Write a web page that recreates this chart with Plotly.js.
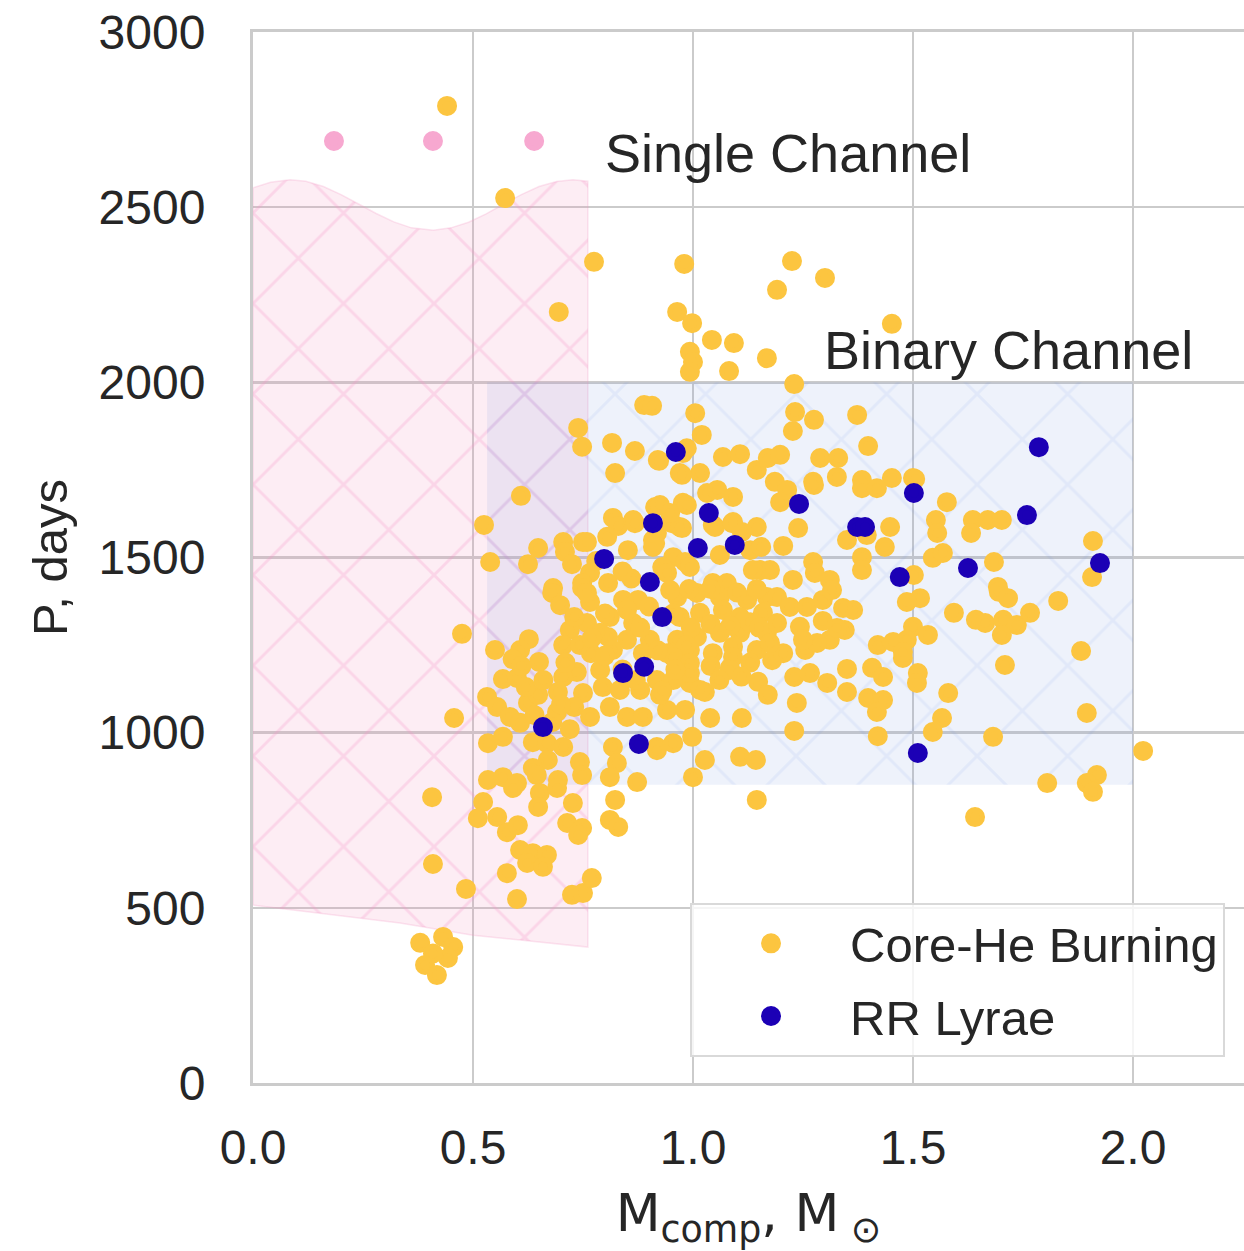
<!DOCTYPE html>
<html>
<head>
<meta charset="utf-8">
<script src="https://cdn.plot.ly/plotly-3.0.1.min.js"></script>
<style>html,body{margin:0;padding:0;background:#fff;}#chart{width:1244px;height:1251px;}</style>
</head>
<body>
<div id="chart"></div>
<script>
// ---- Data ----
const seriesNames = ["Core-He Burning", "RR Lyrae"];
const xTickVals = [0, 0.5, 1.0, 1.5, 2.0];
const xTickText = ["0.0", "0.5", "1.0", "1.5", "2.0"];
const yTickVals = [0, 500, 1000, 1500, 2000, 2500, 3000];
const yTickText = ["0", "500", "1000", "1500", "2000", "2500", "3000"];

// Single-channel region boundary (wavy top, sloping bottom)
const singleRegionX = [0, 0.04, 0.084, 0.12, 0.16, 0.20, 0.24, 0.28, 0.32, 0.36, 0.41, 0.45, 0.49, 0.53, 0.57, 0.61, 0.65, 0.69, 0.727, 0.761,
                       0.761, 0.5, 0.334, 0, 0];
const singleRegionY = [2555, 2571, 2578, 2574, 2559, 2536, 2509, 2482, 2458, 2441, 2434, 2441, 2457, 2481, 2509, 2536, 2559, 2573, 2578, 2574,
                       388, 422, 457, 508, 2555];
// Binary-channel region boundary
const binaryRegionX = [0.532, 2.0, 2.0, 0.532, 0.532];
const binaryRegionY = [851, 851, 2000, 2000, 851];

// Single-channel points
const singleX = [0.184, 0.409, 0.639];
const singleY = [2689, 2689, 2689];

// Core-He Burning
const heX = [
0.441,0.573,0.775,0.695,0.980,1.225,1.300,1.191,1.452,0.964,0.998,1.043,1.093,0.993,1.000,0.993,1.082,1.168,1.230,0.889,
0.907,0.739,0.748,0.816,0.868,0.920,0.823,0.609,0.525,0.539,0.648,0.625,0.705,0.750,0.709,0.725,0.766,0.807,0.682,0.748,
0.818,0.830,0.864,0.852,0.914,0.918,0.909,1.005,1.020,0.923,0.977,0.970,1.016,1.068,1.107,1.145,1.170,1.198,1.186,1.273,
1.232,1.275,1.227,1.373,1.398,1.289,1.330,1.327,1.384,1.452,1.500,0.986,0.975,1.198,1.214,1.275,1.384,1.418,0.925,0.977,
0.952,0.975,0.914,1.032,1.055,1.091,1.050,1.089,1.111,1.145,0.955,0.930,0.982,1.061,1.130,1.155,1.205,1.239,1.152,1.175,
1.273,1.277,1.311,1.227,1.350,1.395,1.448,1.436,1.384,1.384,1.505,1.577,1.552,1.555,1.636,1.670,1.702,1.632,1.909,1.907,
1.545,1.568,1.684,1.502,1.693,1.695,1.716,1.830,1.516,1.486,1.593,1.643,1.664,1.705,1.736,1.766,1.702,1.500,1.534,1.486,
1.477,1.511,1.509,1.709,1.882,1.580,1.566,1.545,1.682,1.895,2.023,1.805,1.918,1.895,1.909,1.641,1.145,1.364,1.341,1.345,
1.311,1.420,1.455,1.477,1.407,1.432,1.350,1.305,1.350,1.398,1.432,1.418,1.420,1.236,1.230,1.266,1.230,1.148,1.170,1.111,
1.039,1.084,1.180,1.205,1.255,1.282,1.327,1.295,0.941,0.982,0.918,0.955,0.998,1.027,1.000,1.107,1.143,1.027,0.993,0.925,
0.475,0.457,0.550,0.607,0.627,0.650,0.568,0.600,0.532,0.555,0.584,0.607,0.625,0.648,0.534,0.568,0.636,0.668,0.705,0.680,
0.698,0.748,0.766,0.759,0.720,0.705,0.743,0.768,0.807,0.789,0.736,0.705,0.693,0.750,0.730,0.691,0.766,0.795,0.811,0.850,
0.886,0.834,0.880,0.818,0.827,0.811,0.873,0.918,0.743,0.748,0.670,0.636,0.693,0.534,0.568,0.600,0.407,0.409,0.484,0.591,
0.523,0.511,0.555,0.577,0.602,0.645,0.652,0.691,0.648,0.727,0.714,0.748,0.739,0.823,0.811,0.830,0.607,0.636,0.668,0.623,
0.659,0.577,0.600,0.725,0.750,0.770,0.380,0.432,0.455,0.443,0.391,0.418,0.409,0.868,0.970,0.948,0.986,1.045,1.091,0.759,
0.805,0.909,1.136,0.941,0.993,1.045,1.077,0.759,0.841,0.875,0.964,1.009,1.061,1.123,1.168,0.811,0.864,0.970,1.016,1.068,
1.107,1.159,0.789,0.850,0.902,0.964,1.009,1.061,1.107,1.168,0.818,0.886,0.941,0.993,1.045,1.091,1.145,0.948,0.991,1.040,
1.100,1.145,1.191,1.220,1.259,1.295,1.316,0.955,1.040,1.085,1.130,1.191,1.243,0.995,1.150,1.175,1.250,0.985,1.091,0.955,
0.920,0.993,1.084,0.918,0.955,0.993,1.016,0.930,0.960,1.040,1.130,1.060,1.110,0.860,0.840,0.780,0.800,0.850,0.900,0.880,
0.840,0.870,0.800,0.770,0.730,0.710,0.620,0.660,0.700,0.590,0.640,0.680,0.720,0.610
];
const heY = [
2789,2526,2344,2201,2338,2346,2298,2264,2167,2201,2169,2121,2112,2087,2058,2030,2032,2069,1995,1935,
1933,1870,1816,1827,1804,1778,1741,1676,1593,1487,1527,1481,1544,1544,1516,1481,1456,1427,1413,1427,
1613,1590,1607,1521,1644,1570,1550,1912,1850,1776,1798,1741,1741,1787,1795,1750,1784,1793,1716,1716,
1915,1893,1861,1907,1818,1784,1784,1730,1721,1727,1727,1812,1736,1658,1693,1707,1698,1698,1650,1656,
1598,1584,1541,1684,1693,1673,1587,1598,1573,1587,1501,1473,1487,1507,1521,1530,1533,1584,1464,1464,
1487,1456,1436,1436,1550,1564,1587,1530,1501,1464,1724,1658,1607,1570,1607,1607,1607,1570,1547,1444,
1499,1513,1487,1450,1416,1402,1384,1376,1384,1373,1342,1322,1313,1322,1307,1342,1279,1302,1279,1265,
1213,1170,1142,1193,1233,1113,1042,1002,988,1056,948,856,879,856,831,759,808,1350,1356,1293,
1265,1250,1259,1230,1185,1159,1182,1142,1116,1099,1093,1059,990,1085,1159,1170,1005,1145,1108,1042,
1042,1185,1207,1227,1236,1256,1299,1319,1065,1065,959,970,988,922,873,931,922,1116,1142,1108,
1282,1042,1236,1236,1267,1202,1153,1156,1102,1073,1045,1028,1085,1108,970,988,973,970,959,1399,
1364,1413,1373,1313,1293,1250,1250,1227,1273,1179,1173,1159,1116,1113,1073,1059,1045,1130,1073,1045,
1045,1122,1122,959,913,873,859,950,916,879,922,899,865,865,873,856,816,625,554,842,
802,756,759,716,736,879,828,842,788,799,742,728,708,808,751,731,665,656,651,628,
617,599,525,537,542,585,400,417,388,357,337,308,370,1598,1587,1627,1650,1593,1601,1544,
1559,1530,1464,1456,1473,1427,1427,1399,1379,1379,1387,1399,1387,1379,1387,1330,1313,1330,1342,1350,
1330,1342,1285,1265,1265,1265,1273,1285,1285,1285,1236,1227,1227,1236,1227,1245,1236,1407,1410,1410,
1400,1410,1387,1359,1359,1379,1407,1340,1310,1305,1315,1313,1302,1300,1300,1256,1265,1250,1216,1216,
1235,1199,1179,1150,1150,1170,1122,1120,1180,1190,1200,1150,1160,1440,1460,1490,1340,1350,1360,1300,
1180,1150,1220,1270,1330,1200,1130,1150,1080,1210,1050,1030,1010,1190
];

// RR Lyrae
const rrX = [0.961,1.036,0.909,1.241,1.011,1.095,0.798,0.902,0.930,0.841,0.889,0.659,0.877,1.373,1.391,1.470,1.502,1.786,1.759,1.625,1.925,1.511];
const rrY = [1801,1627,1598,1653,1527,1536,1496,1430,1330,1170,1188,1016,968,1587,1587,1444,1684,1815,1621,1470,1484,942];

// ---- Styling ----
const FONT = "Liberation Sans, Arial, Helvetica, sans-serif";
const TXT = "#262626";
const yellow = "#fcc540";
const blue = "#1c00b5";
const pinkDot = "#f7a8d0";

const traces = [
  {
    x: singleRegionX, y: singleRegionY, type: "scatter", mode: "lines",
    fill: "toself", fillcolor: "rgba(240,130,180,0.15)",
    fillpattern: {shape: "x", size: 64, solidity: 0.09, fgcolor: "rgb(245,150,200)", fgopacity: 0.28, bgcolor: "rgba(240,130,180,0.15)"},
    line: {width: 1.5, color: "rgba(245,150,195,0.25)"},
    showlegend: false, hoverinfo: "skip"
  },
  {
    x: binaryRegionX, y: binaryRegionY, type: "scatter", mode: "lines",
    fill: "toself", fillcolor: "rgba(100,140,220,0.11)",
    fillpattern: {shape: "x", size: 64, solidity: 0.09, fgcolor: "rgb(100,140,220)", fgopacity: 0.1, bgcolor: "rgba(100,140,220,0.11)"},
    line: {width: 0, color: "rgba(0,0,0,0)"},
    showlegend: false, hoverinfo: "skip"
  },
  {
    x: singleX, y: singleY, type: "scatter", mode: "markers",
    marker: {size: 15, color: pinkDot, line: {width: 5, color: pinkDot}},
    showlegend: false
  },
  {
    x: heX, y: heY, type: "scatter", mode: "markers", name: seriesNames[0], legendgroup: "a",
    marker: {size: 15, color: yellow, line: {width: 5, color: yellow}}
  },
  {
    x: rrX, y: rrY, type: "scatter", mode: "markers", name: seriesNames[1], legendgroup: "b",
    marker: {size: 15, color: blue, line: {width: 5, color: blue}}
  }
];

const layout = {
  width: 1244, height: 1251,
  margin: {l: 253, r: 0, t: 32, b: 168, pad: 0},
  paper_bgcolor: "#ffffff", plot_bgcolor: "#ffffff",
  font: {family: FONT, size: 49, color: TXT},
  showlegend: true,
  legend: {
    x: 0.441, y: 0.1713, xanchor: "left", yanchor: "top",
    bgcolor: "rgba(255,255,255,0.8)", bordercolor: "#d9d9d9", borderwidth: 2,
    font: {family: FONT, size: 49, color: TXT},
    itemwidth: 148, tracegroupgap: 6, traceorder: "grouped"
  },
  xaxis: {
    range: [0, 2.2523], tickmode: "array", tickvals: xTickVals, ticktext: xTickText,
    showgrid: true, gridcolor: "#cbcbcb", gridwidth: 2.5,
    zeroline: false, showline: true, linecolor: "#cbcbcb", linewidth: 3, mirror: true,
    ticks: "", ticklabelstandoff: 20,
    tickfont: {family: FONT, size: 48, color: TXT},
    title: {text: "M<sub>comp</sub>, M<sub> ⊙</sub>", font: {family: "DejaVu Sans, sans-serif", size: 52, color: TXT}, standoff: 26},
    automargin: false
  },
  yaxis: {
    range: [0, 3000], tickmode: "array", tickvals: yTickVals, ticktext: yTickText,
    showgrid: true, gridcolor: "#cbcbcb", gridwidth: 2.5,
    zeroline: false, showline: true, linecolor: "#cbcbcb", linewidth: 3, mirror: false,
    ticks: "", ticklabelstandoff: 35,
    tickfont: {family: FONT, size: 48, color: TXT},
    title: {text: "P, days", font: {family: FONT, size: 49, color: TXT}, standoff: 16},
    automargin: false
  },
  annotations: [
    {x: 0.795, y: 2655, xref: "x", yref: "y", text: "Single Channel", showarrow: false, xanchor: "left", yanchor: "middle",
     font: {family: FONT, size: 54, color: TXT}},
    {x: 1.293, y: 2092, xref: "x", yref: "y", text: "Binary Channel", showarrow: false, xanchor: "left", yanchor: "middle",
     font: {family: FONT, size: 54, color: TXT}}
  ]
};

Plotly.newPlot("chart", traces, layout, {staticPlot: true, displayModeBar: false});
</script>
</body>
</html>
